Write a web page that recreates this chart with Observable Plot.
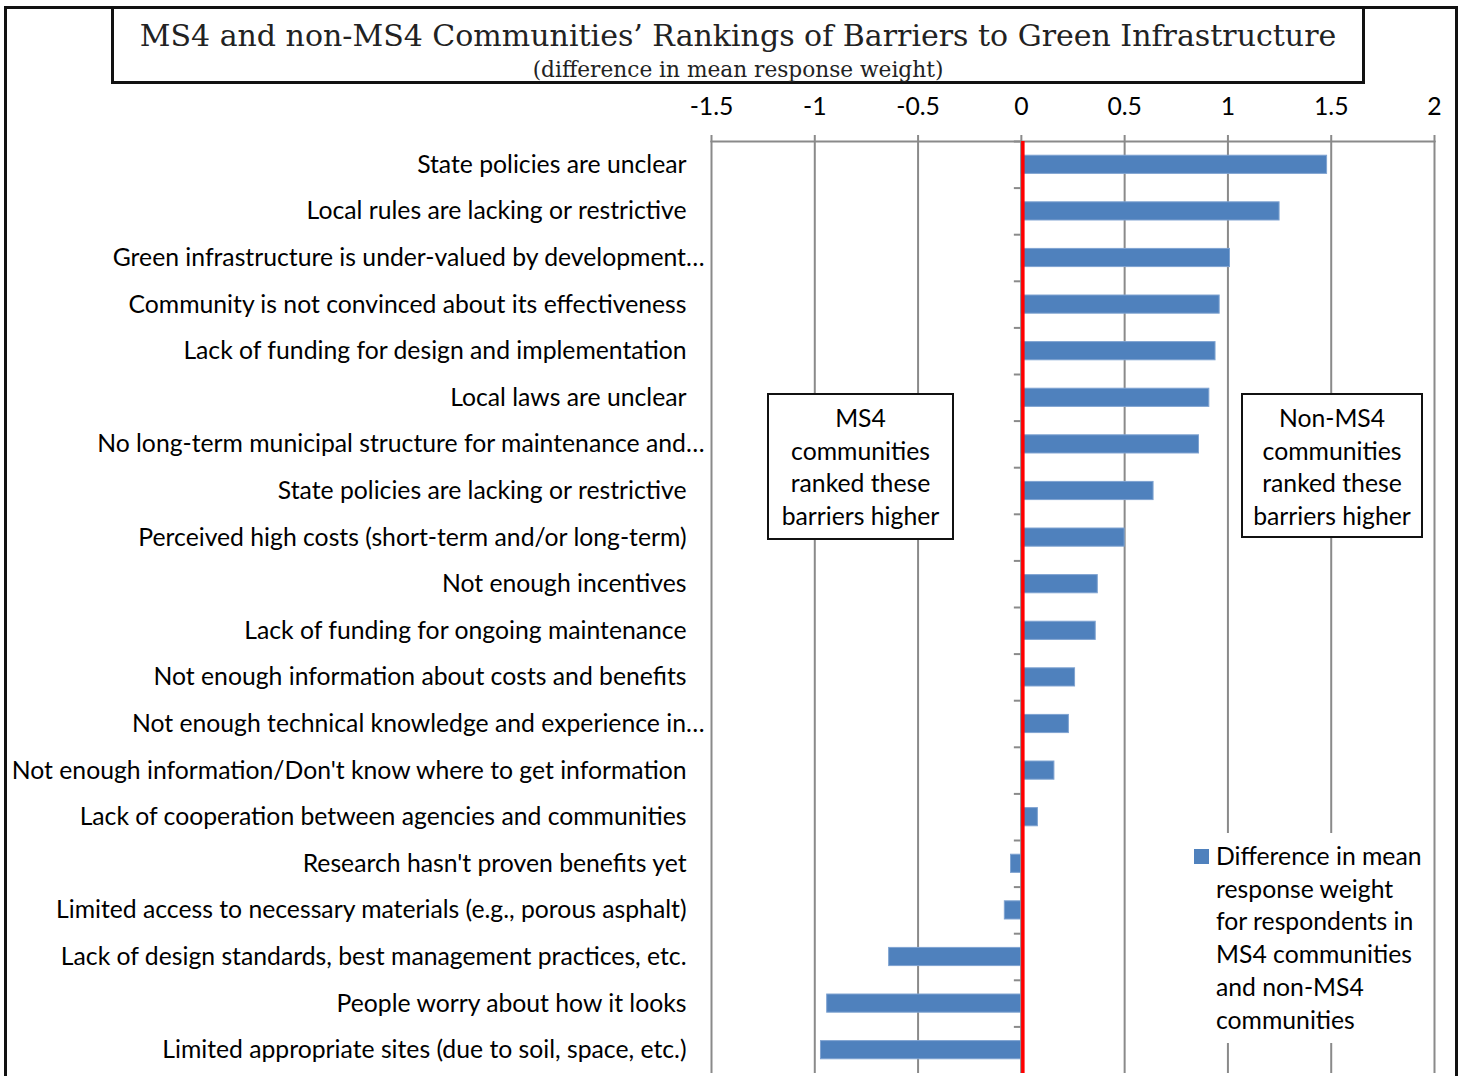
<!DOCTYPE html>
<html><head><meta charset="utf-8">
<script src="https://cdn.jsdelivr.net/npm/d3@7"></script>
<script src="https://cdn.jsdelivr.net/npm/@observablehq/plot@0.6"></script>
<style>
body{margin:0;background:#fff;}
#wrap{position:relative;width:1463px;height:1076px;overflow:hidden;background:#fff;}
#wrap svg{position:absolute;left:0;top:0;}
#outer{position:absolute;left:4px;top:6px;width:1448px;height:1200px;border:3px solid #111;pointer-events:none;}
#titlebox{position:absolute;left:111px;top:6px;width:1248px;height:72px;border:3px solid #111;background:#fff;}
.ttl{position:absolute;left:0;width:100%;text-align:center;white-space:nowrap;font-family:"DejaVu Serif",serif;color:#222;line-height:1;}
.note{position:absolute;background:#fff;border:2.5px solid #111;text-align:center;color:#000;box-sizing:border-box;}
#legend{position:absolute;left:1190px;top:833px;width:236px;height:210px;background:#fff;color:#000;}
#legend .sw{position:absolute;left:4px;top:16px;width:15px;height:15px;background:#4F81BD;}
#legend .tx{position:absolute;left:26px;top:7px;}
</style></head>
<body>
<div id="wrap"></div>
<script>
const categories = [
  "State policies are unclear",
  "Local rules are lacking or restrictive",
  "Green infrastructure is under-valued by development…",
  "Community is not convinced about its effectiveness",
  "Lack of funding for design and implementation",
  "Local laws are unclear",
  "No long-term municipal structure for maintenance and…",
  "State policies are lacking or restrictive",
  "Perceived high costs (short-term and/or long-term)",
  "Not enough incentives",
  "Lack of funding for ongoing maintenance",
  "Not enough information about costs and benefits",
  "Not enough technical knowledge and experience in…",
  "Not enough information/Don't know where to get information",
  "Lack of cooperation between agencies and communities",
  "Research hasn't proven benefits yet",
  "Limited access to necessary materials (e.g., porous asphalt)",
  "Lack of design standards, best management practices, etc.",
  "People worry about how it looks",
  "Limited appropriate sites (due to soil, space, etc.)"
];
const differences = [1.48, 1.25, 1.01, 0.96, 0.94, 0.91, 0.86, 0.64, 0.50, 0.37, 0.36, 0.26, 0.23, 0.16, 0.08, -0.05, -0.08, -0.64, -0.94, -0.97];
const xTicks = [-1.5, -1, -0.5, 0, 0.5, 1, 1.5, 2];
const titleText = "MS4 and non-MS4 Communities’ Rankings of Barriers to Green Infrastructure";
const subtitleText = "(difference in mean response weight)";
const leftNote = ["MS4", "communities", "ranked these", "barriers higher"];
const rightNote = ["Non-MS4", "communities", "ranked these", "barriers higher"];
const legendLines = ["Difference in mean", "response weight", "for respondents in", "MS4 communities", "and non-MS4", "communities"];

const data = categories.map((c, i) => ({barrier: c, diff: differences[i]}));

const FONT = "Lato, 'Open Sans', sans-serif";
function fitSize(text, family, target) {
  const ctx = document.createElement("canvas").getContext("2d");
  ctx.font = `100px ${family}`;
  return 100 * target / ctx.measureText(text).width;
}
const fs = fitSize("Not enough information/Don't know where to get information", FONT, 676);

const W = 1463, H = 1076, mTop = 141, mBottom = 3;
const step = (H - mTop - mBottom) / categories.length;

const chart = Plot.plot({
  width: W, height: H,
  marginLeft: 711, marginRight: 29, marginTop: mTop, marginBottom: mBottom,
  style: {fontFamily: FONT, fontSize: fs + "px", color: "#000", background: "transparent"},
  x: {domain: [-1.5, 2], label: null},
  y: {domain: categories, paddingInner: 0.61, paddingOuter: 0.305, round: false, label: null, axis: null},
  marks: [
    Plot.gridX(xTicks, {stroke: "#8a8a8a", strokeOpacity: 1, strokeWidth: 2}),
    Plot.frame({anchor: "top", stroke: "#8a8a8a", strokeWidth: 2}),
    Plot.axisX(xTicks, {anchor: "top", tickSize: 7, tickPadding: 20, stroke: "#8a8a8a", strokeWidth: 2, fill: "#000", fontSize: fs, label: null, tickFormat: d => String(d)}),
    Plot.barX(data, {x: "diff", y: "barrier", fill: "#4F81BD", stroke: "#7fa3d1", strokeWidth: 1}),
    Plot.ruleX([0], {stroke: "#8a8a8a", strokeWidth: 2}),
    Plot.ruleY(categories, {y: d => d, x1: 0, x2: 0, insetLeft: -7, dy: -step / 2, stroke: "#8a8a8a", strokeWidth: 2}),
    Plot.ruleX([0], {stroke: "#ff0000", strokeWidth: 3.5, dx: 1.5}),
    Plot.text(data.filter(d => !d.barrier.endsWith("…")), {y: "barrier", text: "barrier", frameAnchor: "left", textAnchor: "end", dx: -25, fill: "#000", fontSize: fs}),
    Plot.text(data.filter(d => d.barrier.endsWith("…")), {y: "barrier", text: "barrier", frameAnchor: "left", textAnchor: "end", dx: -7, fill: "#000", fontSize: fs})
  ]
});

const wrap = document.getElementById("wrap");
wrap.appendChild(chart);

const outer = document.createElement("div"); outer.id = "outer"; wrap.appendChild(outer);

const tb = document.createElement("div"); tb.id = "titlebox"; wrap.appendChild(tb);
const TF = "'DejaVu Serif', serif";
const t1 = document.createElement("div"); t1.className = "ttl"; t1.textContent = titleText;
t1.style.fontSize = fitSize(titleText, TF, 1197) + "px"; t1.style.top = "12px";
const t2 = document.createElement("div"); t2.className = "ttl"; t2.textContent = subtitleText;
t2.style.fontSize = fitSize(subtitleText, TF, 411) + "px"; t2.style.top = "50px";
tb.appendChild(t1); tb.appendChild(t2);

function note(lines, left, top, w, h) {
  const d = document.createElement("div"); d.className = "note";
  Object.assign(d.style, {left: left + "px", top: top + "px", width: w + "px", height: h + "px", fontFamily: FONT, fontSize: fs + "px", lineHeight: "32.7px", paddingTop: "7px"});
  d.innerHTML = lines.map(l => `<div>${l}</div>`).join("");
  wrap.appendChild(d);
}
note(leftNote, 767, 393, 187, 147);
note(rightNote, 1241, 393, 182, 145);

const lg = document.createElement("div"); lg.id = "legend";
lg.style.fontFamily = FONT; lg.style.fontSize = fs + "px"; lg.style.lineHeight = "32.7px";
lg.innerHTML = `<div class="sw"></div><div class="tx">${legendLines.map(l => `<div>${l}</div>`).join("")}</div>`;
wrap.appendChild(lg);
</script>
</body></html>
